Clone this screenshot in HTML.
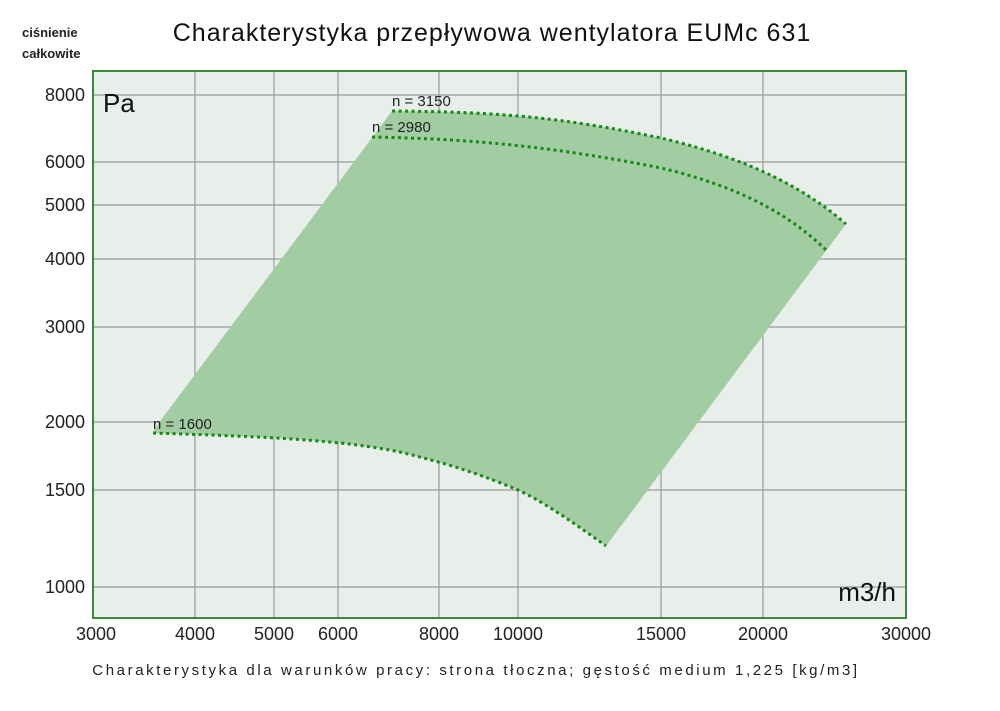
<!DOCTYPE html>
<html><head><meta charset="utf-8"><style>
body{margin:0;background:#fff;}
svg text{font-family:"Liberation Sans",sans-serif;}
</style></head><body>
<svg width="1000" height="706" viewBox="0 0 1000 706" xmlns="http://www.w3.org/2000/svg">
<rect x="0" y="0" width="1000" height="706" fill="#fff"/>
<text x="22" y="37" font-size="13" font-weight="bold" fill="#222">ciśnienie</text>
<text x="22" y="58" font-size="13" font-weight="bold" fill="#222">całkowite</text>
<text x="492" y="41" font-size="25" text-anchor="middle" letter-spacing="1" fill="#111">Charakterystyka przepływowa wentylatora EUMc 631</text>
<rect x="93" y="71" width="813" height="547" fill="#e8eeea"/>
<g stroke="#9a9a9a" stroke-width="1.2">
<line x1="195" y1="71" x2="195" y2="618"/><line x1="274" y1="71" x2="274" y2="618"/>
<line x1="338" y1="71" x2="338" y2="618"/><line x1="439" y1="71" x2="439" y2="618"/>
<line x1="518" y1="71" x2="518" y2="618"/><line x1="661" y1="71" x2="661" y2="618"/>
<line x1="763" y1="71" x2="763" y2="618"/>
<line x1="93" y1="95" x2="906" y2="95"/><line x1="93" y1="162" x2="906" y2="162"/>
<line x1="93" y1="205" x2="906" y2="205"/><line x1="93" y1="259" x2="906" y2="259"/>
<line x1="93" y1="327" x2="906" y2="327"/><line x1="93" y1="422" x2="906" y2="422"/>
<line x1="93" y1="490" x2="906" y2="490"/><line x1="93" y1="587" x2="906" y2="587"/>
</g>
<path d="M158,424 L392,111 C500,112 560,117 661,138 C720,152 790,175 846,224 L606,546 C570,520 540,500 518,490 C470,470 440,462 400,452 C340,440 274,437 153,433 Z" fill="#a2cca2"/>
<g fill="none" stroke="#138a13" stroke-width="3" stroke-dasharray="3 3.5">
<path d="M392,111 C500,112 560,117 661,138 C720,152 790,175 846,224"/>
<path d="M372,137 C480,139 560,148 661,168 C720,182 780,205 826,250"/>
<path d="M153,433 C274,437 340,440 400,452 C440,462 470,470 518,490 C540,500 570,520 606,546"/>
</g>
<rect x="93" y="71" width="813" height="547" fill="none" stroke="#3a8a3a" stroke-width="2"/>
<text x="392" y="106" font-size="15" fill="#222">n = 3150</text>
<text x="372" y="132" font-size="15" fill="#222">n = 2980</text>
<text x="153" y="429" font-size="15" fill="#222">n = 1600</text>
<text x="103" y="112" font-size="26" fill="#111">Pa</text>
<text x="896" y="601" font-size="26" text-anchor="end" fill="#111">m3/h</text>
<g font-size="18" fill="#222" text-anchor="end">
<text x="85" y="101">8000</text><text x="85" y="168">6000</text><text x="85" y="211">5000</text>
<text x="85" y="265">4000</text><text x="85" y="333">3000</text><text x="85" y="428">2000</text>
<text x="85" y="496">1500</text><text x="85" y="593">1000</text>
</g>
<g font-size="18" fill="#222" text-anchor="middle">
<text x="96" y="640">3000</text><text x="195" y="640">4000</text><text x="274" y="640">5000</text>
<text x="338" y="640">6000</text><text x="439" y="640">8000</text><text x="518" y="640">10000</text>
<text x="661" y="640">15000</text><text x="763" y="640">20000</text><text x="906" y="640">30000</text>
</g>
<text x="476" y="675" font-size="15" text-anchor="middle" letter-spacing="2.6" fill="#222">Charakterystyka dla warunków pracy: strona tłoczna; gęstość medium 1,225 [kg/m3]</text>
</svg>
</body></html>
